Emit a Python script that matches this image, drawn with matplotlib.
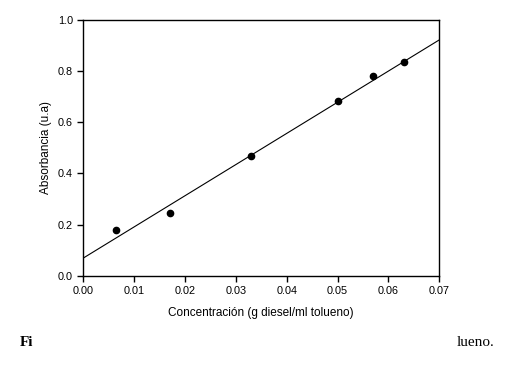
import matplotlib
matplotlib.use("Agg")
import numpy as np
import matplotlib.pyplot as plt

conc = [0.0065, 0.017, 0.033, 0.050, 0.057, 0.063]
absorb = [0.178, 0.245, 0.468, 0.683, 0.778, 0.835]
pendiente = 12.15
intercepto = 0.07

x_ticks = [0.00, 0.01, 0.02, 0.03, 0.04, 0.05, 0.06, 0.07]
y_ticks = [0.0, 0.2, 0.4, 0.6, 0.8, 1.0]

plt.rcParams['font.family'] = ['Liberation Sans', 'DejaVu Sans']

fig = plt.figure(figsize=(5.25, 3.91), dpi=100)
ax = fig.add_axes([0.1587, 0.2941, 0.678, 0.656])

x_linea = np.array([0.0, 0.07])
ax.plot(x_linea, intercepto + pendiente * x_linea, color='black', lw=0.8)
ax.plot(conc, absorb, 'o', color='black', ms=4.5)

ax.set_xlim(0, 0.07)
ax.set_ylim(0, 1.0)
ax.set_xticks(x_ticks)
ax.set_xticklabels([f"{v:.2f}" for v in x_ticks])
ax.set_yticks(y_ticks)
ax.set_yticklabels([f"{v:.1f}" for v in y_ticks])
ax.tick_params(direction='out', length=4, width=1, labelsize=7.8, colors='black')
for s in ax.spines.values():
    s.set_linewidth(1)

ax.set_xlabel("Concentración (g diesel/ml tolueno)", fontsize=8.5)
ax.set_ylabel("Absorbancia (u.a)", fontsize=8.5)
ax.xaxis.set_label_coords(0.5, -0.12)
ax.yaxis.set_label_coords(-0.088, 0.5)

fig.text(20 / 525, 1 - 343 / 391, "Fi", family='Liberation Serif', weight='bold',
         fontsize=11, va='center', ha='left')
fig.text(457 / 525, 1 - 343 / 391, "lueno.", family='Liberation Serif',
         fontsize=11, va='center', ha='left')

fig.savefig("out.png", dpi=100)
